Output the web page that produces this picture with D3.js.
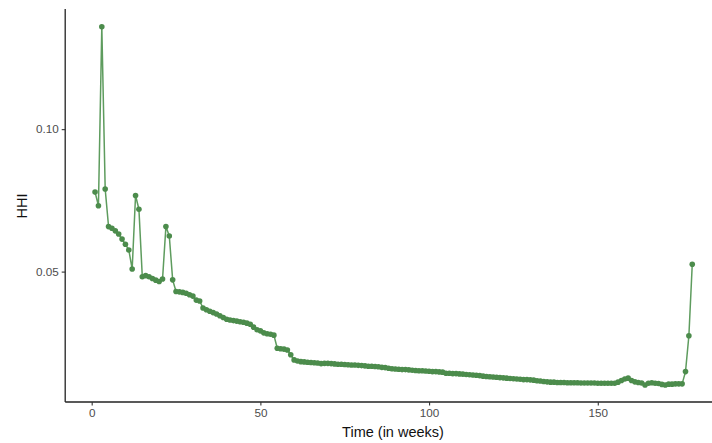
<!DOCTYPE html>
<html>
<head>
<meta charset="utf-8">
<script src="https://cdn.jsdelivr.net/npm/d3@7"></script>
<style>
  html, body { margin: 0; padding: 0; background: #fff; }
  svg { display: block; font-family: "Liberation Sans", Arial, sans-serif; }
</style>
</head>
<body>
<svg id="chart" width="712" height="443"></svg>
<script>
// Weeks 1..178
const weeks = d3.range(1, 179);
const hhi = [
  0.0779, 0.0731, 0.1359, 0.0790, 0.0658, 0.0652, 0.0643, 0.0632, 0.0614, 0.0596,
  0.0576, 0.0509, 0.0767, 0.0719, 0.0482, 0.0486, 0.0482, 0.0476, 0.0470, 0.0465,
  0.0474, 0.0658, 0.0625, 0.0471, 0.0430, 0.0429, 0.0427, 0.0424, 0.0419, 0.0414,
  0.0400, 0.0397, 0.0372, 0.0366, 0.0361, 0.0356, 0.0351, 0.0345, 0.0339, 0.0333,
  0.0330, 0.0328, 0.0326, 0.0324, 0.0322, 0.0319, 0.0315, 0.0305, 0.0296, 0.0292,
  0.0285, 0.0282, 0.0280, 0.0277, 0.0231, 0.0229, 0.0228, 0.0225, 0.0208, 0.0190,
  0.0186, 0.0184, 0.0183, 0.0182, 0.0181, 0.0180, 0.0179, 0.0177, 0.0178, 0.0178,
  0.0177, 0.0176, 0.0175, 0.0175, 0.0174, 0.0173, 0.0172, 0.0172, 0.0171, 0.0170,
  0.0169, 0.0168, 0.0168, 0.0167, 0.0166, 0.0164, 0.0163, 0.0161, 0.0159, 0.0158,
  0.0157, 0.0156, 0.0156, 0.0155, 0.0154, 0.0153, 0.0152, 0.0152, 0.0151, 0.0150,
  0.0149, 0.0149, 0.0148, 0.0147, 0.0143, 0.0143, 0.0142, 0.0142, 0.0141, 0.0140,
  0.0139, 0.0138, 0.0137, 0.0136, 0.0135, 0.0133, 0.0132, 0.0131, 0.0130, 0.0129,
  0.0128, 0.0127, 0.0126, 0.0125, 0.0124, 0.0123, 0.0122, 0.0121, 0.0121, 0.0120,
  0.0119, 0.0117, 0.0116, 0.0114, 0.0113, 0.0112, 0.0112, 0.0111, 0.0111, 0.0111,
  0.0110, 0.0110, 0.0110, 0.0110, 0.0109, 0.0109, 0.0109, 0.0109, 0.0109, 0.0108,
  0.0108, 0.0108, 0.0108, 0.0108, 0.0108, 0.0112, 0.0118, 0.0123, 0.0126, 0.0118,
  0.0113, 0.0111, 0.0109, 0.0102, 0.0108, 0.0110, 0.0108, 0.0107, 0.0104, 0.0102,
  0.0105, 0.0105, 0.0106, 0.0106, 0.0106, 0.0149, 0.0275, 0.0526
];
const xTicks = [0, 50, 100, 150];
const yTicks = [0.05, 0.10];
const xTitle = "Time (in weeks)";
const yTitle = "HHI";

const data = weeks.map((w, i) => ({ w, v: hhi[i] }));

const svg = d3.select("#chart");
const padL = 65.2, padT = 9, padB = 402;

const x = d3.scaleLinear().domain([-7.85, 186.85]).range([padL, padL + 194.7 * 3.374]);
const y = d3.scaleLinear().domain([0.00423, 0.14217]).range([padB, padT]);

const green = "#4c8c4c";

// line
svg.append("path")
  .datum(data)
  .attr("fill", "none")
  .attr("stroke", "#5e9c5e")
  .attr("stroke-width", 1.5)
  .attr("d", d3.line().x(d => x(d.w)).y(d => y(d.v)));

// points
svg.append("g").selectAll("circle")
  .data(data).join("circle")
  .attr("cx", d => x(d.w))
  .attr("cy", d => y(d.v))
  .attr("r", 2.8)
  .attr("fill", green);

// axes
const xAxis = d3.axisBottom(x).tickValues(xTicks).tickSize(3.5).tickPadding(3).tickFormat(d3.format("d"));
const yAxis = d3.axisLeft(y).tickValues(yTicks).tickSize(3.5).tickPadding(3).tickFormat(d3.format(".2f"));

const gx = svg.append("g").attr("transform", `translate(0,${padB})`).call(xAxis);
const gy = svg.append("g").attr("transform", `translate(${padL},0)`).call(yAxis);

gx.select(".domain").attr("d", `M${padL},0H720`).attr("stroke", "#222").attr("stroke-width", 1.3);
gy.select(".domain").attr("d", `M0,${padT}V${padB}`).attr("stroke", "#222").attr("stroke-width", 1.3);

[gx, gy].forEach(g => {
  g.selectAll(".tick line").attr("stroke", "#333").attr("stroke-width", 1.1);
  g.selectAll(".tick text").attr("fill", "#4d4d4d").style("font-size", "11.7px")
    .style("font-family", "'Liberation Sans', Arial, sans-serif");
});

// titles
svg.append("text")
  .attr("x", 393).attr("y", 436.5)
  .attr("text-anchor", "middle")
  .style("font-size", "14.5px")
  .attr("fill", "#111")
  .text(xTitle);

svg.append("text")
  .attr("transform", "translate(26.5,206) rotate(-90)")
  .attr("text-anchor", "middle")
  .style("font-size", "14.5px")
  .attr("fill", "#111")
  .text(yTitle);
</script>
</body>
</html>
